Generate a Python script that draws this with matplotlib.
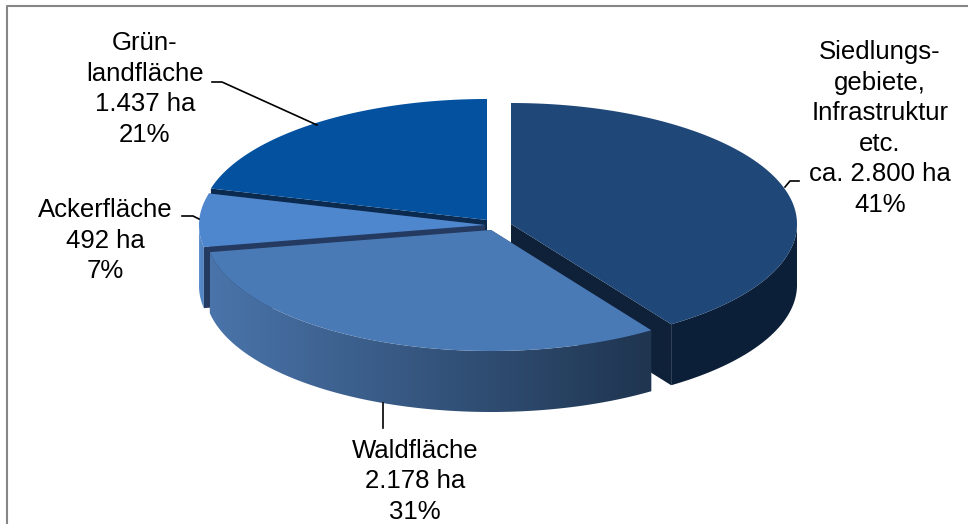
import numpy as np
import matplotlib
matplotlib.use("Agg")
import matplotlib.pyplot as plt
from matplotlib.colors import LinearSegmentedColormap
from matplotlib.patches import Polygon

plt.rcParams['font.family'] = ['Liberation Sans', 'DejaVu Sans']

# data, in the order the slices run clockwise from 12 o'clock
categories = ["Siedlung", "Wald", "Acker", "Gruenland"]
hectares = [2800, 2178, 492, 1437]
labels = [
    "Siedlungs-\ngebiete,\nInfrastruktur\netc.\nca. 2.800 ha\n41%",
    "Waldfläche\n2.178 ha\n31%",
    "Ackerfläche\n492 ha\n7%",
    "Grün-\nlandfläche\n1.437 ha\n21%",
]
label_pos = [(880, 128.5), (415, 481.5), (105, 240.5), (145, 89)]
top_colors = ["#1f4778", "#4a7ab5", "#4f87cf", "#03519f"]
wall_left = ["#0c1f38", "#4a74aa", "#5a8ccb", "#0b2a4f"]
wall_right = ["#0c1f38", "#1f3550", "#4d7fbd", "#0b2a4f"]
cut_colors = ["#0e2138", "#22395f", "#243a60", "#0b2a4f"]
centers = [(511, 224), (491, 230), (485, 225), (487, 220)]
leaders = [
    [(785, 187), (790, 181), (799, 181)],
    [(383, 403), (383, 428)],
    [(182, 216), (193, 216), (199, 219)],
    [(212, 82), (222, 82), (317, 125)],
]

RX, RY = 286, 121
DEPTH = 61

fig = plt.figure(figsize=(9.68, 5.24), dpi=100)
ax = fig.add_axes([0, 0, 1, 1])
ax.set_xlim(0, 968)
ax.set_ylim(524, 0)
ax.axis('off')

# frame, bottom and right are cut off in the original
ax.plot([7, 7, 968], [524, 6, 6], color='#868686', lw=1.5, solid_capstyle='butt')

shares = np.array(hectares) / sum(hectares)
edges = np.concatenate([[0], np.cumsum(shares)]) * 2 * np.pi


def rim(i, n=300):
    t = np.linspace(edges[i], edges[i + 1], n)
    cx, cy = centers[i]
    return t, cx + RX * np.sin(t), cy - RY * np.cos(t)


def draw_slice(i):
    cx, cy = centers[i]
    t, x, y = rim(i)
    # cut faces first
    for k in (0, -1):
        ax.fill([cx, x[k], x[k], cx], [cy, y[k], y[k] + DEPTH, cy + DEPTH],
                color=cut_colors[i], lw=0)
    # outer wall: only the part that faces the viewer, shaded left to right
    front = np.cos(t) < 0.02
    if front.any():
        fx, fy = x[front], y[front]
        wall = Polygon(np.c_[np.r_[fx, fx[::-1]], np.r_[fy, fy[::-1] + DEPTH]], closed=True,
                       transform=ax.transData, facecolor='none', edgecolor='none')
        ax.add_patch(wall)
        cmap = LinearSegmentedColormap.from_list("wall", [wall_left[i], wall_right[i]])
        img = ax.imshow(np.linspace(0, 1, 256)[None, :], cmap=cmap, aspect='auto',
                        extent=(fx.min(), fx.max(), fy.max() + DEPTH, fy.min()),
                        interpolation='bilinear', zorder=1)
        img.set_clip_path(wall)
    ax.fill(np.r_[cx, x], np.r_[cy, y], color=top_colors[i], lw=0)


for i in (3, 2, 0, 1):
    draw_slice(i)

ax.set_xlim(0, 968)
ax.set_ylim(524, 0)

for pts in leaders:
    px, py = zip(*pts)
    ax.plot(px, py, color='black', lw=1.2)

for text, (lx, ly) in zip(labels, label_pos):
    ax.text(lx, ly, text, ha='center', va='center', fontsize=18.5, linespacing=1.34,
            color='black')

fig.savefig("out.png", dpi=100)
